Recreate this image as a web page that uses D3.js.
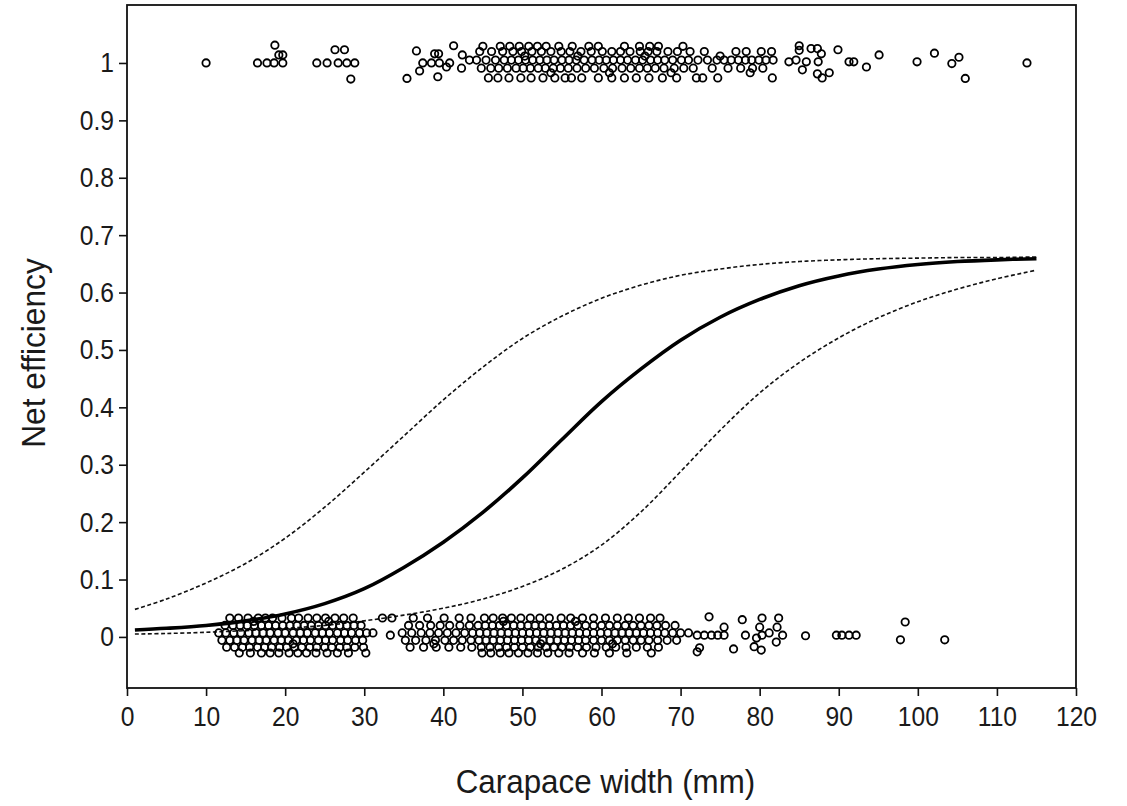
<!DOCTYPE html>
<meta charset="utf-8">
<style>
  body { margin: 0; background: #fff; }
  svg text { font-family: "Liberation Sans", Arial, sans-serif; fill: #1a1a1a; }
</style>
<svg width="1127" height="806"></svg>
<script src="https://d3js.org/d3.v7.min.js"></script>
<script>

// fitted curves, every 5 mm
var fitWidth = [1, 5, 10, 15, 20, 25, 30, 35, 40, 45, 50, 55, 60, 65, 70, 75, 80, 85, 90, 95, 100, 105, 110, 115];
var fitMean  = [0.012, 0.015, 0.020, 0.028, 0.040, 0.058, 0.084, 0.121, 0.165, 0.217, 0.277, 0.344, 0.410, 0.467, 0.517, 0.557, 0.588, 0.612, 0.629, 0.641, 0.649, 0.654, 0.657, 0.659];
var fitUpper = [0.048, 0.066, 0.094, 0.128, 0.172, 0.226, 0.287, 0.350, 0.413, 0.470, 0.520, 0.559, 0.590, 0.613, 0.630, 0.641, 0.649, 0.654, 0.657, 0.659, 0.660, 0.661, 0.661, 0.662];
var fitLower = [0.005, 0.006, 0.008, 0.011, 0.015, 0.020, 0.028, 0.038, 0.050, 0.066, 0.088, 0.118, 0.160, 0.218, 0.288, 0.360, 0.425, 0.478, 0.521, 0.556, 0.584, 0.606, 0.624, 0.639];

// retained crabs (1), jittered in rows
var retainedLevels = [1.029, 1.020, 1.005, 0.991, 0.974];
var retainedWidths = [
  [45.0, 47.2, 48.4, 49.6, 50.8, 51.9, 53.0, 54.6, 56.3, 58.4, 59.6, 62.9, 64.8, 66.1, 67.2, 70.3],
  [44.6, 46.1, 47.5, 48.8, 49.9, 51.2, 52.4, 53.6, 54.9, 56.0, 57.4, 58.7, 60.1, 61.3, 62.4, 63.6, 64.9, 65.9, 67.0, 68.4, 69.6, 71.2, 73.0, 77.0, 78.3, 80.2, 81.5],
  [44.2, 45.4, 46.6, 47.7, 48.6, 49.5, 50.4, 51.3, 52.2, 53.1, 54.0, 55.0, 55.9, 56.8, 57.8, 58.8, 59.7, 60.6, 61.5, 62.4, 63.3, 64.3, 65.2, 66.2, 67.1, 68.0, 69.0, 70.1, 71.0, 72.2, 73.4, 74.6, 75.5, 76.4, 77.3, 78.2, 79.0, 79.9, 80.8, 81.7],
  [44.8, 46.0, 47.0, 48.1, 49.2, 50.1, 51.0, 52.0, 52.9, 53.9, 54.8, 55.8, 56.9, 58.0, 59.1, 60.3, 61.4, 62.6, 63.7, 64.8, 65.8, 66.8, 67.9, 69.2, 70.4, 71.6, 74.0, 76.0, 77.6, 79.1, 80.4],
  [45.7, 46.9, 48.3, 49.8, 51.1, 52.6, 54.1, 55.4, 56.2, 57.5, 59.6, 61.3, 62.9, 64.4, 66.0, 67.7, 69.5, 72.0, 72.8, 74.7, 81.6]
];
var retainedScattered = [
  [10.0, 1.000], [16.5, 1.000], [17.7, 1.000], [18.6, 1.000], [19.7, 1.000], [18.7, 1.031], [19.2, 1.014], [19.7, 1.014],
  [24.0, 1.000], [25.3, 1.000], [26.3, 1.023], [27.5, 1.023], [26.7, 1.000], [27.8, 1.000], [28.8, 1.000], [28.3, 0.972],
  [35.4, 0.973], [36.6, 1.021], [37.0, 0.986], [37.4, 1.000], [38.5, 1.000], [39.5, 1.000], [38.9, 1.016], [39.4, 1.016],
  [39.3, 0.976], [40.8, 1.000], [40.4, 0.993], [41.3, 1.030], [42.4, 1.014], [43.3, 1.005], [42.3, 0.991],
  [50.3, 1.012], [53.6, 0.983], [57.0, 1.012], [61.0, 0.983], [65.5, 1.012], [68.8, 0.983], [75.0, 1.012], [78.8, 0.983],
  [85.0, 1.030], [85.0, 1.022], [86.5, 1.025], [87.3, 1.025], [87.8, 1.016], [83.7, 1.002], [84.6, 1.005], [85.9, 1.002],
  [87.4, 1.002], [85.4, 0.988], [87.3, 0.981], [87.9, 0.974], [88.8, 0.983], [89.9, 1.023], [91.3, 1.002], [91.9, 1.002],
  [93.5, 0.993], [95.1, 1.014], [99.9, 1.002], [102.1, 1.017], [104.3, 0.999], [105.2, 1.010], [106.0, 0.973], [113.8, 1.000]
];

// escaped crabs (0), jittered in rows
var escapedLevels = [0.033, 0.020, 0.007, -0.006, -0.018, -0.028];
var escapedWidths = [
  [13.0, 14.1, 15.3, 16.6, 17.5, 18.4, 19.6, 20.8, 21.7, 22.9, 24.0, 25.1, 26.3, 27.4, 28.6,
   36.2, 38.0, 40.1, 42.0, 43.5, 45.2, 46.3, 47.5, 48.6, 49.8, 51.0, 52.2, 53.4, 54.9, 56.1, 57.6, 59.0, 60.5, 62.0, 63.4, 64.8, 66.2, 67.4],
  [12.4, 13.4, 14.3, 15.2, 16.1, 17.0, 17.9, 18.8, 19.7, 20.6, 21.5, 22.4, 23.3, 24.2, 25.1, 26.0, 26.9, 27.8, 28.7, 29.6,
   35.6, 37.0, 38.4, 39.6, 40.8, 42.1, 43.3, 44.4, 45.3, 46.2, 47.1, 48.0, 48.9, 49.8, 50.7, 51.6, 52.5, 53.4, 54.3, 55.2,
   56.1, 57.0, 58.0, 59.0, 60.0, 61.0, 62.0, 63.0, 64.0, 65.0, 66.0, 67.0, 68.1, 69.3],
  [11.6, 12.5, 13.5, 14.4, 15.4, 16.3, 17.2, 18.1, 19.1, 20.0, 21.0, 21.9, 22.8, 23.8, 24.7, 25.6, 26.6, 27.5, 28.4, 29.4, 30.3,
   34.8, 36.0, 37.2, 38.3, 39.4, 40.5, 41.6, 42.7, 43.7, 44.6, 45.5, 46.4, 47.3, 48.2, 49.1, 50.0, 50.9, 51.8, 52.7, 53.6,
   54.5, 55.4, 56.3, 57.2, 58.1, 59.0, 59.9, 60.8, 61.7, 62.6, 63.5, 64.4, 65.3, 66.2, 67.1, 68.0, 69.0, 70.0, 71.0],
  [12.0, 13.0, 13.9, 14.8, 15.8, 16.7, 17.6, 18.6, 19.5, 20.4, 21.4, 22.3, 23.2, 24.2, 25.1, 26.0, 27.0, 27.9, 28.9, 29.8,
   35.2, 36.5, 37.8, 39.0, 40.2, 41.3, 42.4, 43.5, 44.5, 45.4, 46.3, 47.2, 48.1, 49.0, 49.9, 50.8, 51.7, 52.6, 53.5, 54.4,
   55.3, 56.2, 57.1, 58.0, 59.0, 60.0, 61.0, 62.0, 63.0, 64.0, 65.0, 66.0, 67.1, 68.3, 69.5],
  [12.6, 13.6, 14.6, 15.5, 16.5, 17.4, 18.3, 19.3, 20.2, 21.2, 22.1, 23.1, 24.0, 25.0, 25.9, 26.9, 27.8, 28.8, 29.9,
   35.8, 37.5, 39.1, 40.7, 42.2, 43.6, 44.8, 45.9, 47.0, 48.0, 49.0, 50.0, 51.0, 52.0, 53.0, 54.0, 55.0, 56.0, 57.0,
   58.1, 59.3, 60.6, 61.8, 63.1, 64.4, 65.8, 67.2],
  [14.2, 15.6, 17.0, 18.1, 19.2, 20.5, 21.6, 22.7, 23.9, 25.3, 26.6, 28.0, 30.2,
   44.9, 46.0, 47.2, 48.3, 49.5, 50.7, 51.9, 53.2, 54.6, 55.9, 57.6, 59.1, 61.0, 63.2, 66.3]
];
var escapedScattered = [
  [31.1, 0.007], [32.3, 0.033], [33.5, 0.033], [33.3, 0.003],
  [16.0, 0.027], [21.0, -0.012], [25.5, 0.027], [38.8, -0.012], [47.6, 0.027], [52.3, -0.012], [56.7, 0.027], [61.4, -0.012],
  [72.1, 0.003], [73.0, 0.003], [73.9, 0.003], [74.7, 0.003], [75.5, 0.003], [73.6, 0.035], [72.4, -0.019], [72.1, -0.026],
  [75.5, 0.017], [76.7, -0.021], [77.8, 0.030], [78.2, 0.003], [79.6, -0.002], [79.3, -0.017], [80.2, -0.023],
  [80.3, 0.033], [80.0, 0.017], [80.3, 0.003], [81.2, 0.007], [82.4, 0.033], [82.2, 0.017], [82.9, 0.003], [82.1, -0.009],
  [85.8, 0.002], [89.7, 0.003], [90.4, 0.003], [91.3, 0.003], [92.2, 0.003], [98.4, 0.026], [97.8, -0.005], [103.4, -0.005]
];

var xTicks = [0, 10, 20, 30, 40, 50, 60, 70, 80, 90, 100, 110, 120];
var yTicks = [0, 0.1, 0.2, 0.3, 0.4, 0.5, 0.6, 0.7, 0.8, 0.9, 1];

var plotLeft = 127, plotRight = 1076, plotTop = 5, plotBottom = 688;
var squeeze = 0.88;  // the original lettering is a little condensed

var svg = d3.select("svg");

var x = d3.scaleLinear().domain([0, 120]).range([plotLeft, plotRight]);
var y = d3.scaleLinear().domain([-0.089, 1.101]).range([plotBottom, plotTop]);

function rows(levels, widths) {
  var out = [];
  widths.forEach(function(ws, i) {
    ws.forEach(function(w) { out.push([w, levels[i]]); });
  });
  return out;
}

var points = rows(retainedLevels, retainedWidths)
  .concat(retainedScattered)
  .concat(rows(escapedLevels, escapedWidths))
  .concat(escapedScattered);

// axes
var xAxis = svg.append("g")
    .attr("transform", "translate(0," + plotBottom + ")")
    .call(d3.axisBottom(x).tickValues(xTicks).tickSize(8).tickPadding(10).tickFormat(d3.format("d")));
var yAxis = svg.append("g")
    .attr("transform", "translate(" + plotLeft + ",0)")
    .call(d3.axisLeft(y).tickValues(yTicks).tickSize(8).tickPadding(5).tickFormat(function(d) { return String(d); }));

[xAxis, yAxis].forEach(function(g) {
  g.select(".domain").remove();
  g.selectAll(".tick line").attr("stroke", "#111").attr("stroke-width", 1.6);
  g.selectAll(".tick text").attr("font-size", 28).attr("fill", "#1a1a1a")
    .attr("transform", "scale(" + squeeze + ",1)")
    .style("font-family", "'Liberation Sans', Arial, sans-serif");
});
yAxis.selectAll(".tick text").attr("x", -13 / squeeze);

svg.append("rect")
    .attr("x", plotLeft).attr("y", plotTop)
    .attr("width", plotRight - plotLeft).attr("height", plotBottom - plotTop)
    .attr("fill", "none").attr("stroke", "#111").attr("stroke-width", 1.8);

// fitted lines
var line = function(vals) {
  return d3.line()
    .x(function(d, i) { return x(fitWidth[i]); })
    .y(function(d) { return y(d); })
    .curve(d3.curveCatmullRom.alpha(0.5))(vals);
};

svg.append("path").attr("d", line(fitUpper))
    .attr("fill", "none").attr("stroke", "#111").attr("stroke-width", 1.6).attr("stroke-dasharray", "4,2.5");
svg.append("path").attr("d", line(fitLower))
    .attr("fill", "none").attr("stroke", "#111").attr("stroke-width", 1.6).attr("stroke-dasharray", "4,2.5");
svg.append("path").attr("d", line(fitMean))
    .attr("fill", "none").attr("stroke", "#000").attr("stroke-width", 3.6);

svg.append("g").selectAll("circle")
    .data(points)
  .enter().append("circle")
    .attr("cx", function(d) { return x(d[0]); })
    .attr("cy", function(d) { return y(d[1]); })
    .attr("r", 3.7)
    .attr("fill", "none")
    .attr("stroke", "#000")
    .attr("stroke-width", 1.8);

// titles
svg.append("text")
    .attr("transform", "translate(" + ((plotLeft + plotRight) / 2 + 4) + ",793)scale(0.95,1)")
    .attr("text-anchor", "middle")
    .attr("font-size", 33)
    .text("Carapace width (mm)");

svg.append("text")
    .attr("transform", "translate(45,353)rotate(-90)scale(0.96,1)")
    .attr("text-anchor", "middle")
    .attr("font-size", 33)
    .text("Net efficiency");

</script>
